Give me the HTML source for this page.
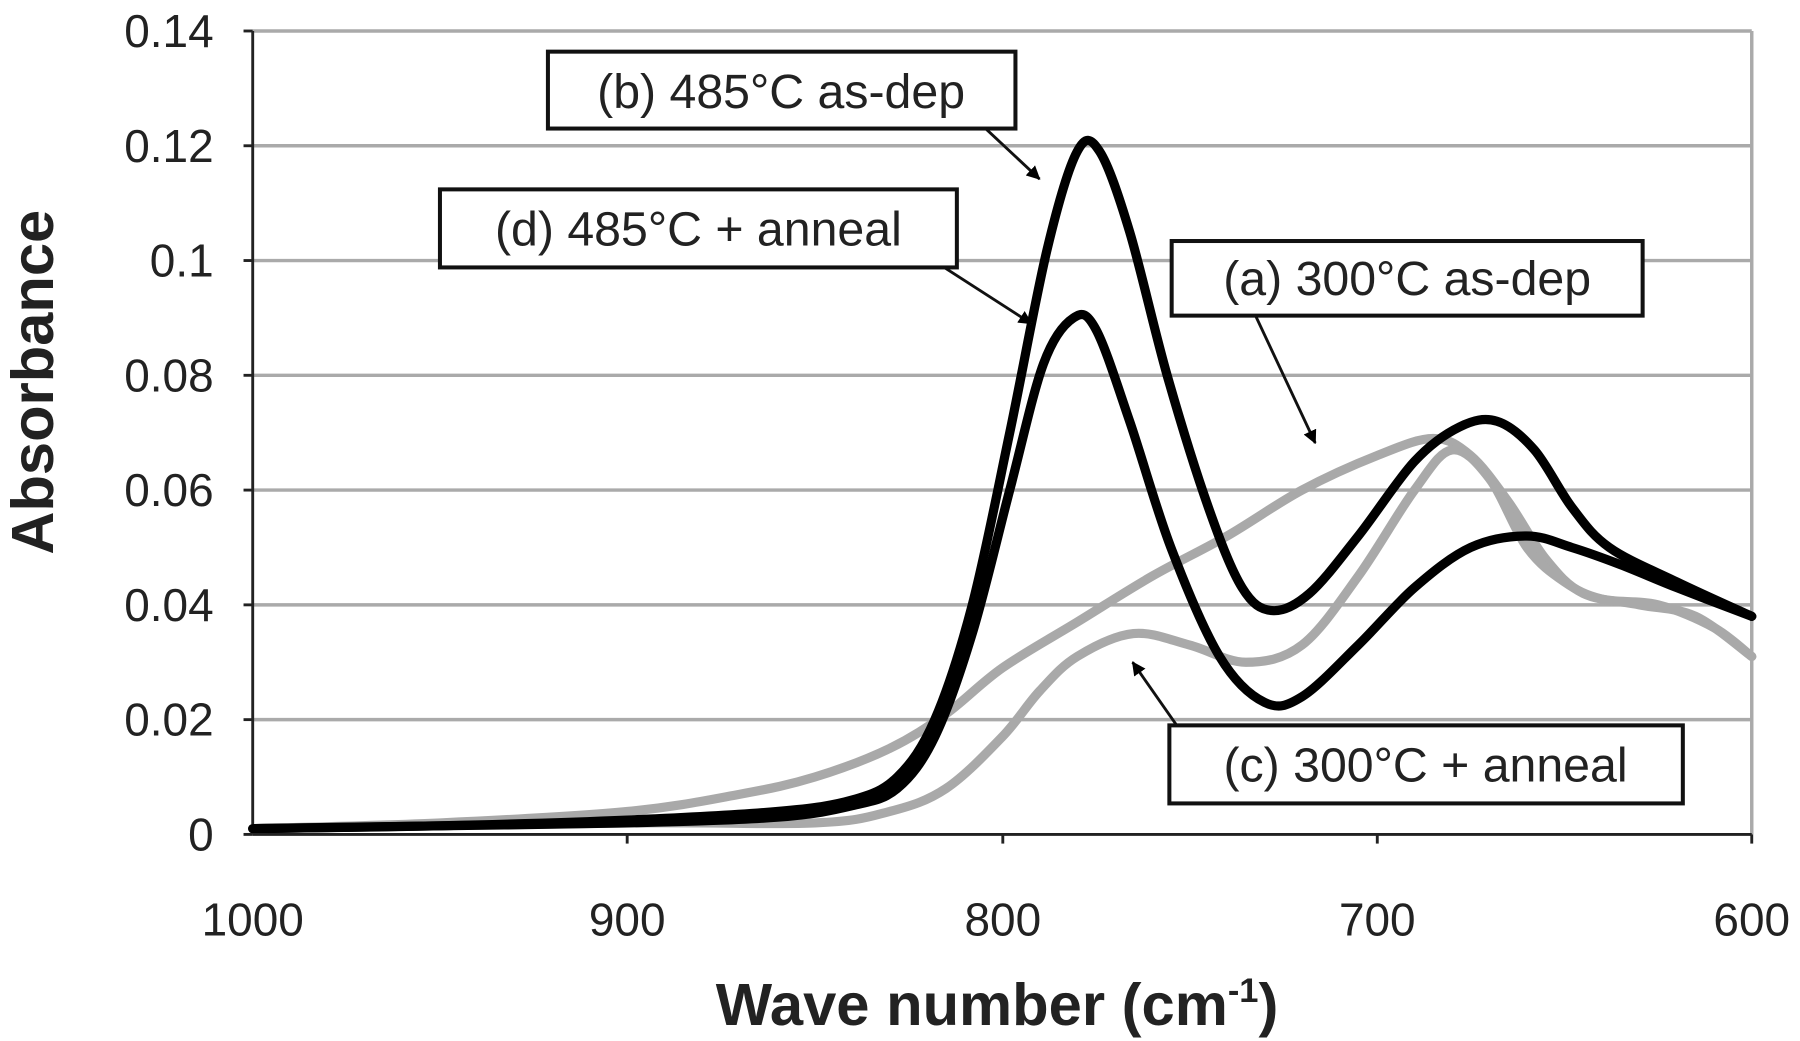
<!DOCTYPE html>
<html><head><style>html,body{margin:0;padding:0;background:#fff}svg{display:block}</style></head>
<body>
<svg id="s" width="1800" height="1041" viewBox="0 0 1567 907" preserveAspectRatio="none" xmlns="http://www.w3.org/2000/svg" font-family="Liberation Sans, sans-serif">
<defs><marker id="ar" markerWidth="12" markerHeight="12" refX="11" refY="6" orient="auto" markerUnits="userSpaceOnUse"><path d="M0,0 L12,6 L0,12 z" fill="#000"/></marker></defs>
<g stroke="#aaa" stroke-width="3">
<line x1="220" y1="27" x2="1525" y2="27"/><line x1="220" y1="127" x2="1525" y2="127"/>
<line x1="220" y1="227" x2="1525" y2="227"/><line x1="220" y1="327" x2="1525" y2="327"/>
<line x1="220" y1="427" x2="1525" y2="427"/><line x1="220" y1="527" x2="1525" y2="527"/>
<line x1="220" y1="627" x2="1525" y2="627"/><line x1="1525" y1="27" x2="1525" y2="727"/>
</g>
<g stroke="#222" stroke-width="2.5">
<line x1="220" y1="27" x2="220" y2="727"/><line x1="220" y1="727" x2="1525" y2="727"/>
<line x1="212" y1="27" x2="220" y2="27"/><line x1="212" y1="127" x2="220" y2="127"/><line x1="212" y1="227" x2="220" y2="227"/><line x1="212" y1="327" x2="220" y2="327"/><line x1="212" y1="427" x2="220" y2="427"/><line x1="212" y1="527" x2="220" y2="527"/><line x1="212" y1="627" x2="220" y2="627"/><line x1="212" y1="727" x2="220" y2="727"/>
<line x1="546" y1="727" x2="546" y2="735"/><line x1="873" y1="727" x2="873" y2="735"/><line x1="1199" y1="727" x2="1199" y2="735"/><line x1="1525" y1="727" x2="1525" y2="735"/>
</g>
<g font-size="40" fill="#222" text-anchor="end">
<text x="186" y="41">0.14</text><text x="186" y="141">0.12</text><text x="186" y="241">0.1</text><text x="186" y="341">0.08</text><text x="186" y="441">0.06</text><text x="186" y="541">0.04</text><text x="186" y="641">0.02</text><text x="186" y="741">0</text>
</g>
<g font-size="40" fill="#222" text-anchor="middle">
<text x="220" y="815">1000</text><text x="546" y="815">900</text><text x="873" y="815">800</text><text x="1199" y="815">700</text><text x="1525" y="815">600</text>
</g>
<text x="868" y="893" font-size="52" font-weight="bold" text-anchor="middle" fill="#222">Wave number (cm<tspan dy="-20" font-size="30">-1</tspan><tspan dy="20">)</tspan></text>
<text transform="translate(46,333) rotate(-90)" font-size="52" font-weight="bold" text-anchor="middle" fill="#222">Absorbance</text>
<g id="curves" fill="none" stroke-linejoin="round" stroke-linecap="round"></g>
<g stroke="#111" stroke-width="2.5" marker-end="url(#ar)">
<line x1="858" y1="112" x2="905" y2="156"/>
<line x1="822" y1="233" x2="898" y2="282"/>
<line x1="1093" y1="275" x2="1145" y2="386"/>
<line x1="1030" y1="640" x2="986" y2="577"/>
</g>
<g fill="#fff" stroke="#111" stroke-width="3.5">
<rect x="477" y="45" width="407" height="67"/><rect x="383" y="165" width="450" height="68"/>
<rect x="1020" y="210" width="410" height="65"/><rect x="1018" y="632" width="447" height="68"/>
</g>
<g font-size="42" fill="#222" text-anchor="middle">
<text x="680" y="94">(b) 485°C as-dep</text><text x="608" y="214">(d) 485°C + anneal</text>
<text x="1225" y="257">(a) 300°C as-dep</text><text x="1241" y="681">(c) 300°C + anneal</text>
</g>
</svg>
<script>
function px(x){return 220+(1000-x)*3.2625} function py(y){return 727-y*5000}
function path(d){var p=d.map(function(a){return[px(a[0]),py(a[1])]});var s="M"+p[0][0]+","+p[0][1];
for(var i=0;i<p.length-1;i++){var p0=p[i-1]||p[i],p1=p[i],p2=p[i+1],p3=p[i+2]||p2;
s+=" C"+(p1[0]+(p2[0]-p0[0])/6)+","+(p1[1]+(p2[1]-p0[1])/6)+" "+(p2[0]-(p3[0]-p1[0])/6)+","+(p2[1]-(p3[1]-p1[1])/6)+" "+p2[0]+","+p2[1];}return s;}
var A=[[1000,0.001],[950,0.002],[900,0.004],[870,0.007],[850,0.01],[830,0.015],[815,0.021],[800,0.029],[780,0.037],[760,0.045],[740,0.052],[720,0.06],[700,0.066],[685,0.069],[675,0.066],[665,0.058],[655,0.048],[645,0.042],[630,0.04],[615,0.038],[600,0.031]];
var C=[[1000,0.001],[900,0.002],[850,0.002],[830,0.004],[815,0.008],[800,0.017],[790,0.025],[780,0.031],[765,0.035],[750,0.033],[735,0.03],[720,0.033],[705,0.045],[690,0.06],[680,0.067],[670,0.062],[660,0.05],[650,0.044],[640,0.041],[625,0.04],[610,0.036],[600,0.031]];
var B=[[1000,0.001],[950,0.0015],[900,0.0025],[860,0.004],[840,0.006],[828,0.01],[818,0.02],[808,0.04],[798,0.07],[788,0.102],[780,0.119],[774,0.119],[766,0.105],[756,0.08],[745,0.057],[736,0.043],[728,0.039],[718,0.042],[705,0.052],[690,0.065],[678,0.071],[668,0.072],[658,0.067],[648,0.057],[638,0.05],[620,0.044],[600,0.038]];
var D=[[1000,0.001],[950,0.0015],[900,0.002],[860,0.003],[840,0.005],[828,0.008],[818,0.017],[808,0.035],[798,0.06],[789,0.082],[781,0.09],[775,0.088],[766,0.072],[755,0.05],[742,0.031],[730,0.023],[720,0.024],[705,0.033],[690,0.043],[675,0.05],[660,0.052],[648,0.05],[635,0.047],[620,0.043],[600,0.038]];
var g=document.getElementById("curves");
[[A,"#a9a9a9",8],[C,"#a9a9a9",8],[B,"#000",8],[D,"#000",8]].forEach(function(c){var e=document.createElementNS("http://www.w3.org/2000/svg","path");e.setAttribute("d",path(c[0]));e.setAttribute("stroke",c[1]);e.setAttribute("stroke-width",c[2]);g.appendChild(e);});
</script>
</body></html>
